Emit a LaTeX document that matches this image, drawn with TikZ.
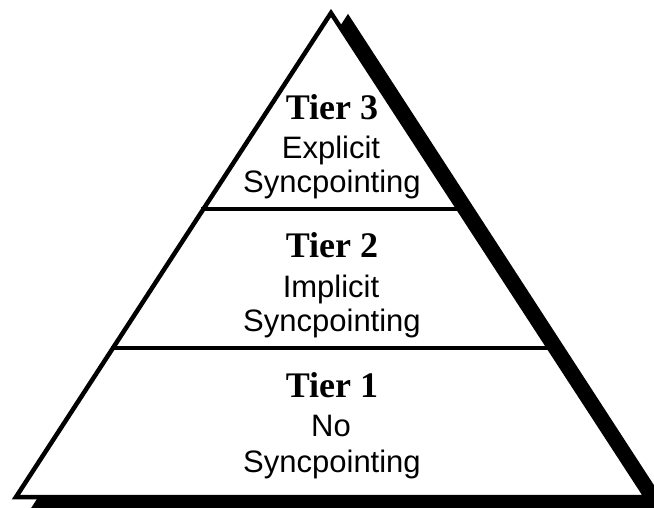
\documentclass[tikz,border=0pt]{standalone}
\usepackage{fontspec}
\usetikzlibrary{calc}
\setmainfont{Liberation Sans}
\newfontfamily\tierfont{Liberation Serif}
\tikzset{
  tierlbl/.style={anchor=base, inner sep=0pt, font=\tierfont\bfseries\fontsize{36}{40}\selectfont},
  desclbl/.style={anchor=base, inner sep=0pt, font=\fontsize{31}{36}\selectfont},
  edge/.style={line width=4.5pt, line join=miter},
  divider/.style={line width=4pt}
}
\begin{document}
\begin{tikzpicture}[x=1pt,y=-1pt]
\useasboundingbox (0,0) rectangle (654,508);
\begin{scope}
\clip (0,0) rectangle (654,508);
% shadow
\fill[black, draw=black, edge] (348,18) -- (670,514) -- (30,514) -- cycle;
\end{scope}
% main triangle
\coordinate (apex) at (331,13);
\coordinate (bl) at (16,497);
\coordinate (br) at (646,497);
\filldraw[fill=white, draw=black, edge] (apex) -- (br) -- (bl) -- cycle;
% dividers
\coordinate (d1l) at ($(apex)!0.405!(bl)$);
\coordinate (d1r) at ($(apex)!0.405!(br)$);
\coordinate (d2l) at ($(apex)!0.692!(bl)$);
\coordinate (d2r) at ($(apex)!0.692!(br)$);
\draw[divider] ([xshift=-2pt]d1l) -- ([xshift=2pt]d1r);
\draw[divider] ([xshift=-2pt]d2l) -- ([xshift=2pt]d2r);
% labels
\node[tierlbl] (t3) at (332,120) {Tier 3};
\node[desclbl] (t3a) at (331,159) {Explicit};
\node[desclbl] (t3b) at (332,193) {Syncpointing};
\node[tierlbl] (t2) at (332,258) {Tier 2};
\node[desclbl] (t2a) at (331,297) {Implicit};
\node[desclbl] (t2b) at (332,331) {Syncpointing};
\node[tierlbl] (t1) at (332,397) {Tier 1};
\node[desclbl] (t1a) at (331,436) {No};
\node[desclbl] (t1b) at (332,472) {Syncpointing};
\end{tikzpicture}
\end{document}
